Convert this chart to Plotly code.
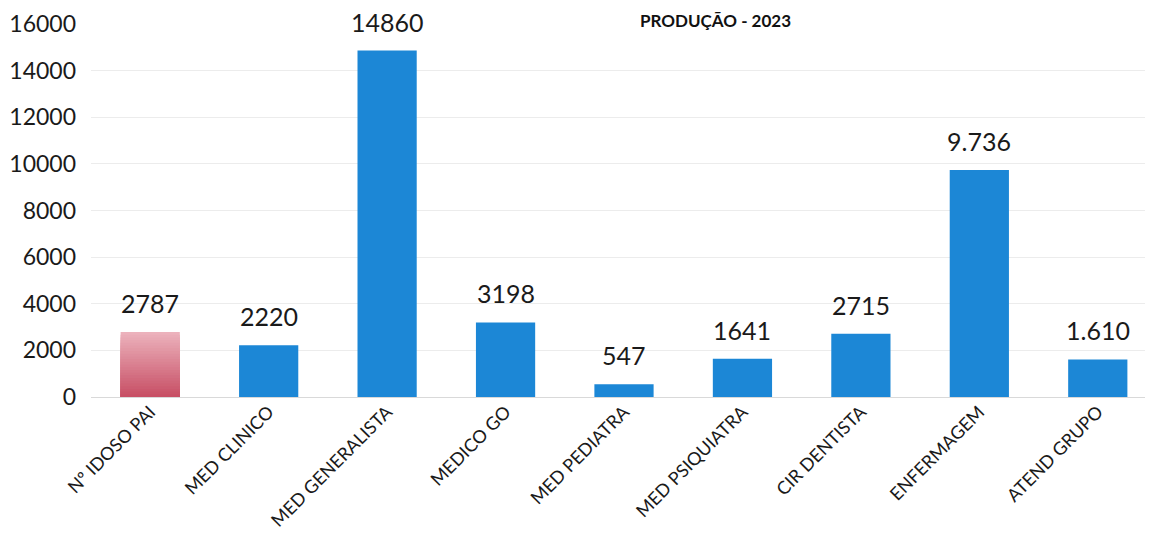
import plotly.graph_objects as go

categories = ["Nº IDOSO PAI", "MED CLINICO", "MED GENERALISTA", "MEDICO GO", "MED PEDIATRA",
              "MED PSIQUIATRA", "CIR DENTISTA", "ENFERMAGEM", "ATEND GRUPO"]
values = [2787, 2220, 14860, 3198, 547, 1641, 2715, 9736, 1610]
value_labels = ["2787", "2220", "14860", "3198", "547", "1641", "2715", "9.736", "1.610"]
title_text = "PRODUÇÃO - 2023"

BLUE = "#1c87d6"
FONT = "Lato, 'Open Sans', Arial, sans-serif"

W, H = 1153, 556
ML, MR, MT, MB = 83, 4, 16, 167

fig = go.Figure()

# gradient for the first (highlighted) bar, light at top to darker at bottom
N = 24
top_rgb = (236, 178, 188)
bot_rgb = (200, 80, 102)
for k in range(N):
    t = k / (N - 1)
    r = int(top_rgb[0] + (bot_rgb[0] - top_rgb[0]) * t)
    g = int(top_rgb[1] + (bot_rgb[1] - top_rgb[1]) * t)
    b = int(top_rgb[2] + (bot_rgb[2] - top_rgb[2]) * t)
    fig.add_trace(go.Bar(
        x=[categories[0]], y=[values[0] * (1 - k / N)],
        marker=dict(color=f"rgb({r},{g},{b})", line=dict(width=0)),
        hoverinfo="skip", showlegend=False,
    ))

# main bars (blue)
colors = ["rgba(0,0,0,0)"] + [BLUE] * (len(categories) - 1)
fig.add_trace(go.Bar(
    x=categories, y=values,
    marker=dict(color=colors, line=dict(width=0)),
    showlegend=False,
))

# value labels above the bars
annotations = [
    dict(x=c, y=v, text=t, xref="x", yref="y", showarrow=False,
         yanchor="bottom", yshift=12,
         font=dict(family=FONT, size=25, color="#1a1a1a"))
    for c, v, t in zip(categories, values, value_labels)
]
annotations.append(dict(
    text=f"<b>{title_text}</b>", xref="paper", yref="paper",
    x=(715 - 8 - ML) / (W - ML - MR), xanchor="center",
    y=1 + MT / (H - MT - MB), yanchor="top",
    showarrow=False, font=dict(family=FONT, size=17, color="#111111"),
))

fig.update_layout(
    width=W, height=H,
    barmode="overlay", bargap=0.5,
    paper_bgcolor="white", plot_bgcolor="white",
    margin=dict(l=ML, r=MR, t=MT, b=MB),
    font=dict(family=FONT, color="#1a1a1a"),
    xaxis=dict(
        tickangle=-45, tickfont=dict(family=FONT, size=18, color="#1a1a1a"),
        showgrid=False, showline=False, ticks="", automargin=False,
    ),
    yaxis=dict(
        range=[0, 16000], tickvals=[0, 2000, 4000, 6000, 8000, 10000, 12000, 14000, 16000],
        tickformat="d", tickfont=dict(family=FONT, size=23, color="#1a1a1a"),
        showgrid=True, gridcolor="#ececec", gridwidth=1,
        zeroline=True, zerolinecolor="#d9d9d9", zerolinewidth=1,
        showline=False, ticks="", ticklabelstandoff=14, automargin=False,
    ),
    annotations=annotations,
)

fig.write_html("out.html")
